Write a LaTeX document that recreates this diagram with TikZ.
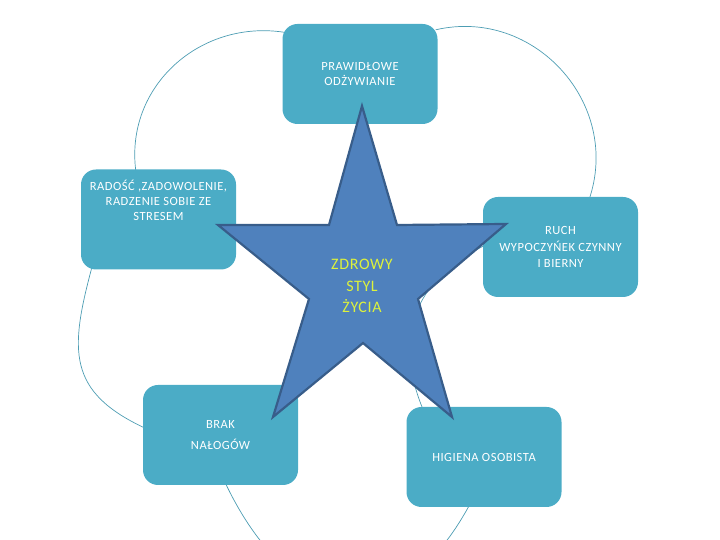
\documentclass[tikz,border=0pt]{standalone}
\usepackage{fontspec}
\setmainfont{Carlito}[LetterSpace=4]
\usetikzlibrary{backgrounds}
\definecolor{zsTeal}{HTML}{4BACC6}
\definecolor{zsRing}{HTML}{4D9DB3}
\definecolor{zsStar}{HTML}{4F81BD}
\definecolor{zsEdge}{HTML}{385D8A}
\definecolor{zsYellow}{HTML}{DDF23C}
\tikzset{
 wheel/.style={font=\fontsize{12.5}{15}\selectfont,line join=round},
 box/.style={rectangle,rounded corners=15pt,fill=zsTeal,text=white,minimum width=155pt,minimum height=100pt,align=center,inner sep=2pt},
 boxtop/.style={text=white,align=center,anchor=north,yshift=-7pt},
 ring/.style={draw=zsRing,line width=.7pt},
 starfill/.style={fill=zsStar,draw=zsEdge,line width=2.2pt,line join=miter},
 motto/.style={font=\fontsize{16}{21.5}\selectfont,text=zsYellow,align=center}
}
\begin{document}
\begin{tikzpicture}[wheel,x=1pt,y=1pt]
 \useasboundingbox (0,0) rectangle (720,540);
 % the five boxes
 \node[box] (odz) at (360,466) {PRAWIDŁOWE\\ODŻYWIANIE};
 \node[box,label={[boxtop]north:{RADOŚĆ ,ZADOWOLENIE,\\RADZENIE SOBIE ZE\\STRESEM}}] (rad) at (158.5,320.5) {};
 \node[box] (ruch) at (560.5,293) {RUCH\\[1.5pt]WYPOCZYŃEK CZYNNY\\[1.5pt]I BIERNY};
 \node[box] (brak) at (220.5,105) {BRAK\\[6pt]NAŁOGÓW};
 \node[box] (hig) at (484,83) {HIGIENA OSOBISTA};
 % thin rings behind the boxes
 \begin{scope}[on background layer]
  \clip (0,0) rectangle (720,540);
  \draw[ring] ([xshift=5pt,yshift=-9pt]odz.north west) to[out=170,in=98,looseness=1.08] ([xshift=-22.5pt,yshift=-3pt]rad.north);
  \draw[ring] ([xshift=-2pt,yshift=-6pt]odz.north east) to[out=13,in=71,looseness=1.13] ([xshift=28.5pt,yshift=-3pt]ruch.north);
  \draw[ring] ([xshift=11pt,yshift=2pt]rad.south west) to[out=-105,in=155,looseness=1.3] ([xshift=2pt,yshift=7pt]brak.west);
  \draw[ring] ([xshift=5pt,yshift=3pt]ruch.west) to[out=205,in=113,out looseness=0.9,in looseness=1.4] ([xshift=-60pt,yshift=-5pt]hig.north);
  \draw[ring] ([xshift=3.5pt,yshift=5pt]brak.south) to[out=-65,in=-118,looseness=1.6] ([xshift=-13pt,yshift=5pt]hig.south);
 \end{scope}
 % star on top
 \draw[starfill] (362,434) -- (397,315) -- (506,316) -- (418,241) -- (452,123) -- (363,197)
   -- (273,123) -- (309,241) -- (218,315) -- (329,315) -- cycle;
 \node[motto] (zsz) at (362,254) {ZDROWY\\STYL\\ŻYCIA};
\end{tikzpicture}
\end{document}
